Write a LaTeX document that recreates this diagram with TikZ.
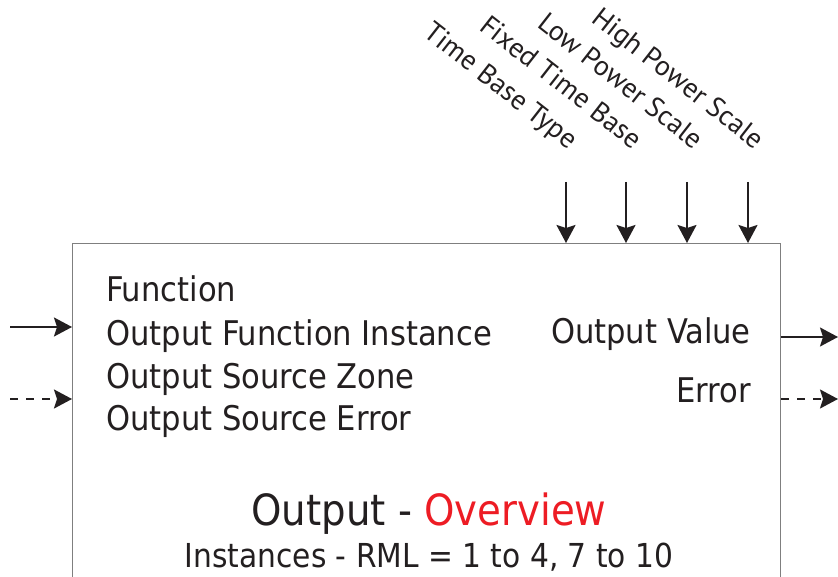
\documentclass[tikz,border=0pt]{standalone}
\usepackage{fontspec}
\setmainfont{DejaVu Sans Condensed}
\newfontfamily\rotfont{PT Sans}
\usetikzlibrary{arrows.meta}
\definecolor{txt}{HTML}{231F20}
\definecolor{ovr}{HTML}{ED1C24}
\definecolor{boxc}{HTML}{7F7F7F}
\begin{document}
\begin{tikzpicture}[x=1pt,y=-1pt,
  arr/.style={line width=1.7pt, draw=txt, -{Stealth[length=18pt,width=19pt,inset=3pt]}},
  dsh/.style={arr, dash pattern=on 8pt off 8pt},
  lbl/.style={font=\fontsize{34}{36}\selectfont, text=txt, inner sep=0pt, anchor=base west},
  rlbl/.style={font=\fontsize{34}{36}\selectfont, text=txt, inner sep=0pt, anchor=base east},
  tlbl/.style={font=\rotfont\fontsize{28}{30}\selectfont, text=txt, inner sep=0pt, rotate=-38, anchor=base east}]
\useasboundingbox (0,0) rectangle (838,577);
\clip (0,0) rectangle (838,577);
\node[draw=boxc, line width=1.3pt, minimum width=708pt, minimum height=360pt, anchor=north west, inner sep=0pt] (box) at (72,243) {};
% left texts
\node[lbl] (f1) at (106,302) {Function};
\node[lbl] (f2) at (106,345) {Output Function Instance};
\node[lbl] (f3) at (106,388) {Output Source Zone};
\node[lbl] (f4) at (106,430) {Output Source Error};
% right texts
\node[rlbl] (o1) at (751,343) {Output Value};
\node[rlbl] (o2) at (751,402) {Error};
% bottom titles
\node[font=\fontsize{43}{45}\selectfont, text=txt, inner sep=0pt, anchor=base] (t1) at (429,525) {Output - \textcolor{ovr}{Overview}};
\node[font=\fontsize{33}{35}\selectfont, text=txt, inner sep=0pt, anchor=base] (t2) at (429,567) {Instances - RML = 1 to 4, 7 to 10};
% left inputs
\coordinate (i1) at (10,327);
\coordinate (i2) at (10,399);
\draw[arr] (i1) -- (i1 -| box.west);
\draw[dsh] (i2) -- (i2 -| box.west);
% right outputs
\coordinate (r1) at (838,337);
\coordinate (r2) at (838,399);
\draw[arr] (r1 -| box.east) -- (r1);
\draw[dsh] (r2 -| box.east) -- (r2);
% top inputs
\foreach \n/\x/\dx/\t in {a/566/3/Time Base Type, b/626/7/Fixed Time Base, c/687/7/Low Power Scale, d/748/7/High Power Scale}{
  \coordinate (c\n) at (\x,182);
  \node[tlbl] (l\n) at (\x+\dx,150) {\t};
  \draw[arr] (c\n) -- (c\n |- box.north);
}
\end{tikzpicture}
\end{document}
